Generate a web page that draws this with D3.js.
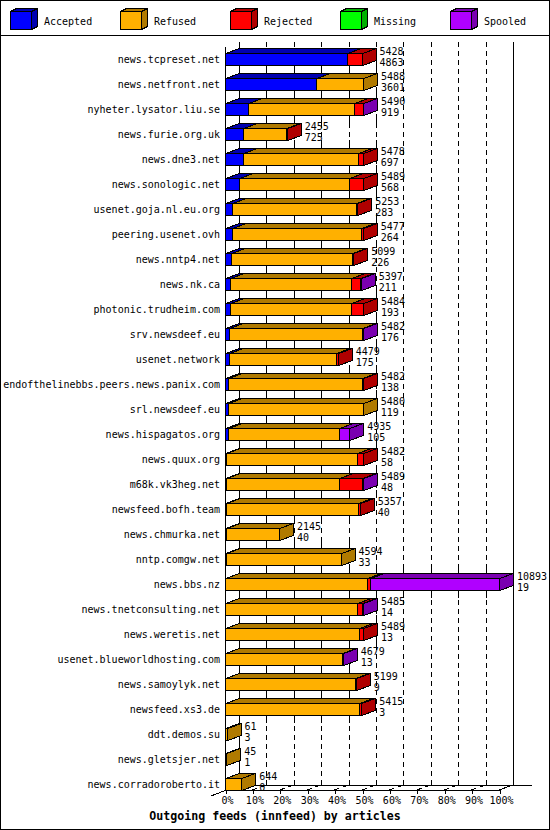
<!DOCTYPE html>
<html lang="en">
<head>
  <meta charset="UTF-8">
  <title>Outgoing feeds (innfeed) by articles</title>
  <script src="https://d3js.org/d3.v7.min.js"></script>
  <style>
    body { margin: 0; background: #fff; }
    svg { display: block; }
    text { font-family: "DejaVu Sans Mono", monospace; }
  </style>
</head>
<body>
  <div class="canvas"></div>
  <script>
    // data
    const hosts = [
      "news.tcpreset.net", "news.netfront.net", "nyheter.lysator.liu.se", "news.furie.org.uk",
      "news.dne3.net", "news.sonologic.net", "usenet.goja.nl.eu.org", "peering.usenet.ovh",
      "news.nntp4.net", "news.nk.ca", "photonic.trudheim.com", "srv.newsdeef.eu",
      "usenet.network", "endofthelinebbs.peers.news.panix.com", "srl.newsdeef.eu", "news.hispagatos.org",
      "news.quux.org", "m68k.vk3heg.net", "newsfeed.bofh.team", "news.chmurka.net",
      "nntp.comgw.net", "news.bbs.nz", "news.tnetconsulting.net", "news.weretis.net",
      "usenet.blueworldhosting.com", "news.samoylyk.net", "newsfeed.xs3.de", "ddt.demos.su",
      "news.gletsjer.net", "news.corradoroberto.it"
    ];
    const accepted = [4863, 3601, 919, 725, 697, 568, 283, 264, 226, 211, 193, 176, 175, 138, 119,
      105, 58, 48, 40, 40, 33, 19, 14, 13, 13, 9, 3, 3, 1, 0];
    const refused = [0, 1887, 4199, 1690, 4591, 4380, 4925, 5153, 4833, 4795, 4823, 5266, 4244, 5304, 5361,
      4437, 5170, 4501, 5267, 2105, 4561, 5640, 5246, 5301, 4626, 5150, 5332, 58, 44, 644];
    const rejected = [565, 0, 358, 40, 190, 541, 45, 60, 40, 345, 468, 0, 60, 40, 0,
      0, 254, 880, 50, 0, 0, 116, 175, 175, 0, 40, 80, 0, 0, 0];
    const missing = [0, 0, 0, 0, 0, 0, 0, 0, 0, 0, 0, 0, 0, 0, 0,
      0, 0, 0, 0, 0, 0, 0, 0, 0, 0, 0, 0, 0, 0, 0];
    const spooled = [0, 0, 14, 0, 0, 0, 0, 0, 0, 46, 0, 40, 0, 0, 0,
      393, 0, 60, 0, 0, 0, 5118, 50, 0, 40, 0, 0, 0, 0, 0];
    const seriesNames = ["Accepted", "Refused", "Rejected", "Missing", "Spooled"];
    const frontColors = ["#0000ff", "#ffb000", "#ff0000", "#00ff00", "#b000ff"];
    const darkColors = ["#0000b0", "#b07a00", "#b00000", "#00b000", "#7a00b0"];
    const tickLabels = ["0%", "10%", "20%", "30%", "40%", "50%", "60%", "70%", "80%", "90%", "100%"];
    const title = "Outgoing feeds (innfeed) by articles";

    const width = 550;
    const height = 830;
    const DX = 14, DY = 5;          // depth of the 3d look
    const wallTop = 42;
    const floorY = 790;

    const svg = d3.select('.canvas')
      .append('svg')
      .attr('width', width)
      .attr('height', height)
      .attr('shape-rendering', 'crispEdges');

    const rows = hosts.map((h, i) => ({
      host: h,
      Accepted: accepted[i],
      Refused: refused[i],
      Rejected: rejected[i],
      Missing: missing[i],
      Spooled: spooled[i]
    }));
    const totals = rows.map(r => d3.sum(seriesNames, k => r[k]));
    const stacked = d3.stack().keys(seriesNames)(rows);

    const x = d3.scaleLinear()
      .domain([0, d3.max(totals)])
      .range([225, 499]);
    const y = d3.scaleBand()
      .domain(hosts)
      .range([46.5, 796.5])
      .paddingInner(0.52)
      .paddingOuter(0.26);
    const bh = y.bandwidth();
    const tickVals = tickLabels.map((t, i) => x.domain()[1] * i / 10);

    const px = v => Math.round(v) + 0.5;

    // frame + legend
    svg.append('rect')
      .attr('x', 0.5).attr('y', 0.5)
      .attr('width', width - 1).attr('height', height - 1)
      .attr('fill', 'none').attr('stroke', '#000');
    svg.append('line')
      .attr('x1', 0).attr('x2', width)
      .attr('y1', 35.5).attr('y2', 35.5)
      .attr('stroke', '#000');

    const legend = svg.selectAll('.legend')
      .data(seriesNames)
      .enter()
      .append('g')
      .attr('class', 'legend')
      .attr('transform', (d, i) => `translate(${10 + 110 * i}, 0)`);
    legend.append('path')
      .attr('d', 'M0.5,11.5 L6.5,8.5 L27.5,8.5 L21.5,11.5 Z M21.5,11.5 L27.5,8.5 L27.5,26.5 L21.5,29.5 Z')
      .attr('fill', (d, i) => darkColors[i])
      .attr('stroke', '#000');
    legend.append('rect')
      .attr('x', 0.5).attr('y', 11.5)
      .attr('width', 21).attr('height', 18)
      .attr('fill', (d, i) => frontColors[i])
      .attr('stroke', '#000');
    legend.append('text')
      .attr('x', 34)
      .attr('y', 24.5)
      .attr('font-size', 10)
      .text(d => d);

    // walls
    const grid = svg.append('g').attr('stroke', '#000').attr('fill', 'none');
    grid.append('line')
      .attr('x1', px(x(0))).attr('x2', px(x(0)))
      .attr('y1', wallTop + DY).attr('y2', floorY);
    [0, 10].forEach(k => {
      grid.append('line')
        .attr('x1', px(x(tickVals[k]) + DX)).attr('x2', px(x(tickVals[k]) + DX))
        .attr('y1', wallTop).attr('y2', floorY - DY);
    });
    // dashed grid on the back wall
    grid.selectAll('.vgrid')
      .data(tickVals.slice(1, 10))
      .enter()
      .append('line')
      .attr('class', 'vgrid')
      .attr('x1', d => px(x(d) + DX)).attr('x2', d => px(x(d) + DX))
      .attr('y1', wallTop).attr('y2', floorY - DY)
      .attr('stroke-dasharray', '5,4');
    // solid pieces in the gaps between bars
    const backEnd = totals.map(t => x(t) + DX);
    hosts.slice(0, -1).forEach((h, i) => {
      const reach = Math.max(backEnd[i], backEnd[i + 1]);
      tickVals.slice(1, 10).forEach(v => {
        const gx = x(v) + DX;
        if (gx <= reach) {
          grid.append('line')
            .attr('x1', px(gx)).attr('x2', px(gx))
            .attr('y1', y(h) + bh).attr('y2', y(hosts[i + 1]) - DY);
        }
      });
    });
    // floor
    grid.append('line')
      .attr('x1', px(x(0) + DX)).attr('x2', 532)
      .attr('y1', floorY - DY + 0.5).attr('y2', floorY - DY + 0.5);
    grid.append('line')
      .attr('x1', px(x(0))).attr('x2', px(x.range()[1]))
      .attr('y1', floorY + 0.5).attr('y2', floorY + 0.5);
    grid.append('line')
      .attr('x1', x(0) + DX).attr('y1', floorY - DY)
      .attr('x2', x(0) - DX).attr('y2', floorY + DY + 1);
    grid.append('line')
      .attr('x1', x.range()[1]).attr('y1', floorY)
      .attr('x2', x.range()[1] + DX).attr('y2', floorY - DY);
    grid.selectAll('.fgrid')
      .data(tickVals.slice(1, 10))
      .enter()
      .append('line')
      .attr('class', 'fgrid')
      .attr('x1', d => x(d)).attr('y1', floorY)
      .attr('x2', d => x(d) + DX).attr('y2', floorY - DY)
      .attr('stroke-dasharray', '5,4');

    // x axis labels
    const xAxis = d3.axisBottom(x)
      .tickValues(tickVals)
      .tickFormat((d, i) => tickLabels[i])
      .tickSize(4)
      .tickPadding(3);
    const xAxisG = svg.append('g')
      .attr('transform', `translate(0.5, ${floorY})`)
      .call(xAxis);
    xAxisG.select('.domain').remove();
    xAxisG.attr('font-family', '"DejaVu Sans Mono", monospace').attr('font-size', 10);
    xAxisG.selectAll('text').attr('x', 1.5);

    // host labels
    const yAxis = d3.axisLeft(y).tickSize(0).tickPadding(2);
    const yAxisG = svg.append('g')
      .attr('transform', 'translate(222, 0.8)')
      .call(yAxis);
    yAxisG.select('.domain').remove();
    yAxisG.attr('font-family', '"DejaVu Sans Mono", monospace').attr('font-size', 10);

    // bars
    const bars = svg.append('g').attr('stroke', '#000');
    hosts.forEach((h, i) => {
      const top = y(h) + 0.5;
      const segs = stacked
        .map((s, k) => ({ k, x0: px(x(s[i][0])), x1: px(x(s[i][1])), v: s[i][1] - s[i][0] }))
        .filter(d => d.v > 0);
      segs.forEach(d => {
        bars.append('path')
          .attr('d', `M${d.x0},${top} L${d.x0 + DX},${top - DY} L${d.x1 + DX},${top - DY} L${d.x1},${top} Z`)
          .attr('fill', darkColors[d.k]);
        bars.append('rect')
          .attr('x', d.x0).attr('y', top)
          .attr('width', Math.max(0, d.x1 - d.x0)).attr('height', bh)
          .attr('fill', frontColors[d.k]);
      });
      const last = segs[segs.length - 1];
      if (last) {
        bars.append('path')
          .attr('d', `M${last.x1},${top} L${last.x1 + DX},${top - DY} L${last.x1 + DX},${top + bh - DY} L${last.x1},${top + bh} Z`)
          .attr('fill', darkColors[last.k]);
      }
    });

    // value labels: total on top, accepted below
    const vals = svg.append('g').attr('font-size', 10);
    vals.selectAll('.tot')
      .data(hosts)
      .enter()
      .append('text')
      .attr('x', (d, i) => x(totals[i]) + DX + 4)
      .attr('y', d => y(d) + 1.5)
      .text((d, i) => totals[i]);
    vals.selectAll('.acc')
      .data(hosts)
      .enter()
      .append('text')
      .attr('x', (d, i) => x(totals[i]) + DX + 4)
      .attr('y', d => y(d) + 12.5)
      .text((d, i) => accepted[i]);

    // title
    svg.append('text')
      .attr('x', 275)
      .attr('y', 820)
      .attr('text-anchor', 'middle')
      .attr('font-size', 11.6)
      .attr('font-weight', 'bold')
      .text(title);
  </script>
</body>
</html>
